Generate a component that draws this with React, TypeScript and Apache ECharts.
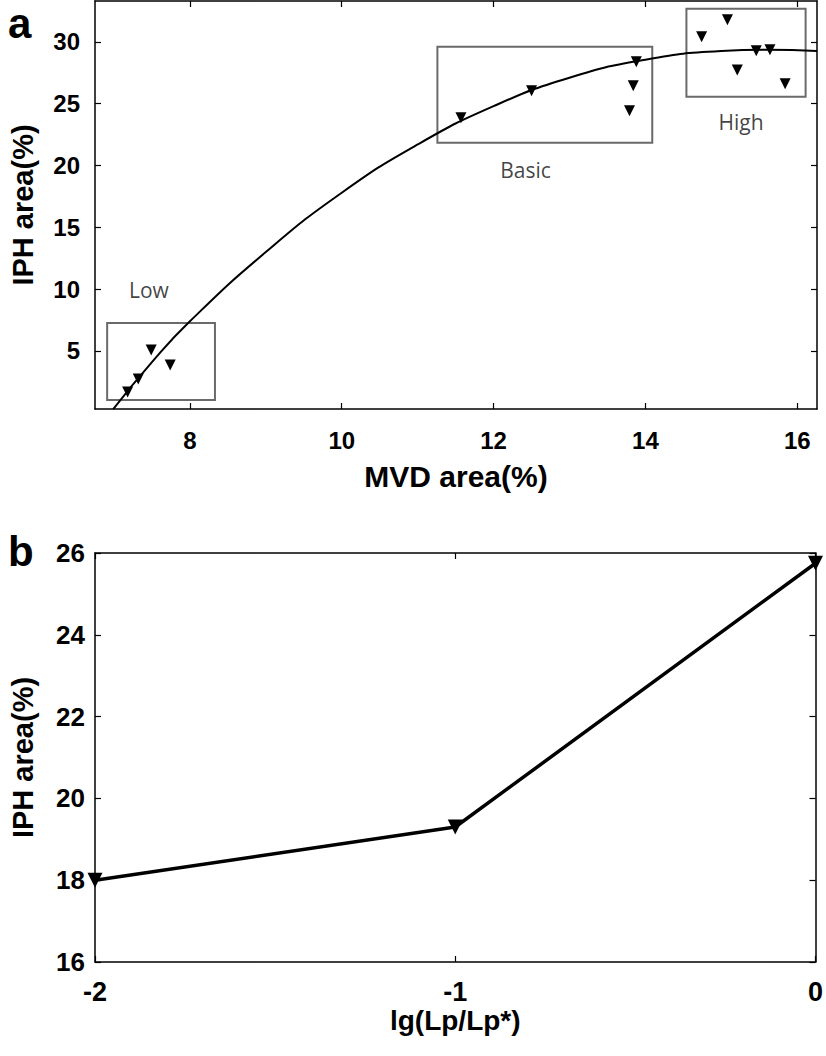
import React, { useEffect, useRef } from "react";
import * as echarts from "echarts";

// Panel a: scatter data (MVD area %, IPH area %)
const mvdArea = [7.18, 7.32, 7.49, 7.74, 11.57, 12.5, 13.88, 13.84, 13.79, 14.74, 15.08, 15.46, 15.64, 15.21, 15.84];
const iphArea = [1.68, 2.73, 5.08, 3.87, 23.85, 26.04, 28.38, 26.44, 24.42, 30.4, 31.78, 29.27, 29.35, 27.73, 26.6];
// Panel a: fitted curve
const fitX = [6.99, 7.5, 8, 9, 10, 11, 12, 13, 14, 15, 15.6, 16.26];
const fitY = [0.3, 4.1, 7.4, 13.0, 17.8, 21.7, 24.8, 27.1, 28.55, 29.25, 29.35, 29.25];
// Panel a: group boxes and labels
const groupNames = ["Low", "Basic", "High"];
const boxXMin = [6.91, 11.26, 14.54];
const boxXMax = [8.33, 14.09, 16.11];
const boxYMin = [1.04, 21.83, 25.55];
const boxYMax = [7.27, 29.6, 32.67];
const groupLabelX = [7.46, 12.42, 15.26];
const groupLabelY = [9.94, 19.64, 23.53];
const xTicksA = [8, 10, 12, 14, 16];
const yTicksA = [5, 10, 15, 20, 25, 30];
// Panel b
const lgRatio = [-2, -1, 0];
const iphAreaB = [18.0, 19.3, 25.75];

const NARROW = '"Liberation Sans Narrow", "Arial Narrow", "Liberation Sans", Arial, sans-serif';
const SANS = '"Liberation Sans", Arial, sans-serif';

export default function App() {
  const ref = useRef<HTMLDivElement>(null);
  useEffect(() => {
    if (!ref.current) return;
    const chart = echarts.init(ref.current, undefined, { renderer: "svg" });
    const black = "#000";
    const tickInside = (vals?: number[]) => ({
      show: true,
      inside: true,
      length: 6,
      lineStyle: { color: black, width: 1.2 },
      ...(vals ? { customValues: vals } : {}),
    });
    const line = { show: true, onZero: false, lineStyle: { color: black, width: 1.5 } };

    const option: any = {
      animation: false,
      backgroundColor: "#fff",
      grid: [
        { left: 94, top: 1, width: 723, height: 408 },
        { left: 95, top: 553, width: 722, height: 409 },
      ],
      graphic: [
        { type: "text", left: 8, top: 2, style: { text: "a", font: `bold 42px ${SANS}`, fill: black } },
        { type: "text", left: 8, top: 530, style: { text: "b", font: `bold 42px ${SANS}`, fill: black } },
      ],
      xAxis: [
        {
          gridIndex: 0, type: "value", min: 6.75, max: 16.26, position: "bottom",
          axisLine: line, axisTick: tickInside(xTicksA), splitLine: { show: false },
          axisLabel: { customValues: xTicksA, color: black, fontFamily: NARROW, fontWeight: "bold", fontSize: 24, margin: 19 },
          name: "MVD area(%)", nameLocation: "middle", nameGap: 52,
          nameTextStyle: { color: black, fontFamily: NARROW, fontWeight: "bold", fontSize: 30 },
        },
        {
          gridIndex: 0, type: "value", min: 6.75, max: 16.26, position: "top",
          axisLine: line, axisTick: tickInside(xTicksA), splitLine: { show: false },
          axisLabel: { show: false, customValues: xTicksA },
        },
        {
          gridIndex: 1, type: "value", min: -2, max: 0, interval: 1, position: "bottom",
          axisLine: line, axisTick: tickInside(), splitLine: { show: false },
          axisLabel: { color: black, fontFamily: NARROW, fontWeight: "bold", fontSize: 27, margin: 16 },
          name: "lg(Lp/Lp*)", nameLocation: "middle", nameGap: 44,
          nameTextStyle: { color: black, fontFamily: NARROW, fontWeight: "bold", fontSize: 28 },
        },
        {
          gridIndex: 1, type: "value", min: -2, max: 0, interval: 1, position: "top",
          axisLine: line, axisTick: tickInside(), splitLine: { show: false },
          axisLabel: { show: false },
        },
      ],
      yAxis: [
        {
          gridIndex: 0, type: "value", min: 0.31, max: 33.3, position: "left",
          axisLine: line, axisTick: tickInside(yTicksA), splitLine: { show: false },
          axisLabel: { customValues: yTicksA, color: black, fontFamily: NARROW, fontWeight: "bold", fontSize: 24, margin: 15 },
          name: "IPH area(%)", nameLocation: "middle", nameGap: 58,
          nameTextStyle: { color: black, fontFamily: SANS, fontWeight: "bold", fontSize: 29 },
        },
        {
          gridIndex: 0, type: "value", min: 0.31, max: 33.3, position: "right",
          axisLine: line, axisTick: tickInside(yTicksA), splitLine: { show: false },
          axisLabel: { show: false, customValues: yTicksA },
        },
        {
          gridIndex: 1, type: "value", min: 16, max: 26, interval: 2, position: "left",
          axisLine: line, axisTick: tickInside(), splitLine: { show: false },
          axisLabel: { color: black, fontFamily: SANS, fontWeight: "bold", fontSize: 26, margin: 10 },
          name: "IPH area(%)", nameLocation: "middle", nameGap: 58,
          nameTextStyle: { color: black, fontFamily: SANS, fontWeight: "bold", fontSize: 29 },
        },
        {
          gridIndex: 1, type: "value", min: 16, max: 26, interval: 2, position: "right",
          axisLine: line, axisTick: tickInside(), splitLine: { show: false },
          axisLabel: { show: false },
        },
      ],
      series: [
        {
          type: "line", xAxisIndex: 0, yAxisIndex: 0, smooth: 0.5, showSymbol: false, silent: true,
          data: fitX.map((x, i) => [x, fitY[i]]),
          lineStyle: { color: black, width: 2 },
          markArea: {
            silent: true,
            label: { show: false },
            itemStyle: { color: "rgba(0,0,0,0)", borderColor: "#6a6a6a", borderWidth: 2 },
            data: groupNames.map((_, i) => [
              { coord: [boxXMin[i], boxYMax[i]] },
              { coord: [boxXMax[i], boxYMin[i]] },
            ]),
          },
        },
        {
          type: "scatter", xAxisIndex: 0, yAxisIndex: 0, symbol: "triangle", symbolRotate: 180, symbolSize: 11,
          itemStyle: { color: black, opacity: 1 },
          data: mvdArea.map((x, i) => [x, iphArea[i]]),
        },
        {
          type: "scatter", xAxisIndex: 0, yAxisIndex: 0, symbolSize: 0, silent: true,
          label: { show: true, position: "inside", formatter: "{b}", color: "#111", fontFamily: '"Open Sans", "Noto Sans", sans-serif', fontSize: 21 },
          data: groupNames.map((n, i) => ({ name: n, value: [groupLabelX[i], groupLabelY[i]] })),
        },
        {
          type: "line", xAxisIndex: 2, yAxisIndex: 2, clip: false,
          symbol: "triangle", symbolRotate: 180, symbolSize: 15,
          itemStyle: { color: black },
          lineStyle: { color: black, width: 3.5 },
          data: lgRatio.map((x, i) => [x, iphAreaB[i]]),
        },
      ],
    };
    chart.setOption(option);
    return () => chart.dispose();
  }, []);
  return <div ref={ref} style={{ position: "fixed", left: 0, top: 0, width: 826, height: 1056, background: "#fff" }} />;
}
